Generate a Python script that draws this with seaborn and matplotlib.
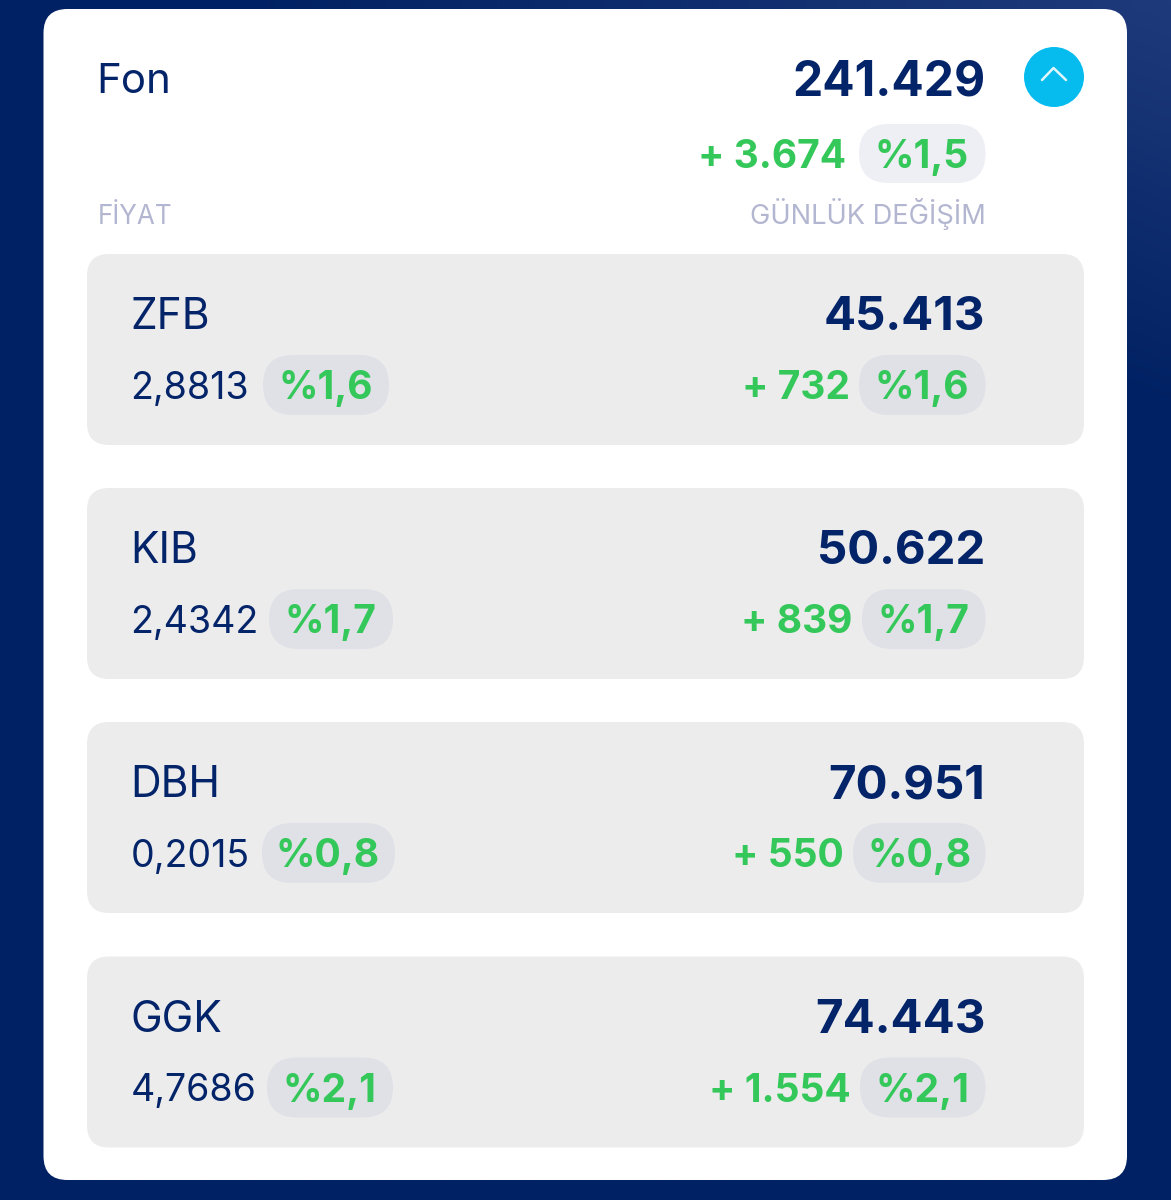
import numpy as np
import matplotlib
matplotlib.use("Agg")
import matplotlib.pyplot as plt
from matplotlib.patches import FancyBboxPatch, Circle
from matplotlib.lines import Line2D
import seaborn as sns

# ---- data ----
fund_label = "Fon"
fund_total = "241.429"
fund_change = "+ 3.674"
fund_pct = "%1,5"
col_left = "FİYAT"
col_right = "GÜNLÜK DEĞİŞİM"
names = ["ZFB", "KIB", "DBH", "GGK"]
prices = ["2,8813", "2,4342", "0,2015", "4,7686"]
price_pcts = ["%1,6", "%1,7", "%0,8", "%2,1"]
values = ["45.413", "50.622", "70.951", "74.443"]
changes = ["+ 732", "+ 839", "+ 550", "+ 1.554"]
change_pcts = ["%1,6", "%1,7", "%0,8", "%2,1"]

# ---- style ----
NAVY = "#04246a"
GREEN = "#34c759"
GREY = "#b3b6d0"
W, H = 1171, 1200
DPI = 100
sns.set_theme(style="white")
plt.rcParams["font.family"] = ["Inter", "DejaVu Sans"]


def pt(px):
    return px * 72 / DPI


fig = plt.figure(figsize=(W / DPI, H / DPI), dpi=DPI)
ax = fig.add_axes([0, 0, 1, 1])
ax.axis("off")
sns.despine(ax=ax, left=True, bottom=True)

# gradient page background (lighter toward the top right)
xx, yy = np.meshgrid(np.linspace(0, 1, 120), np.linspace(0, 1, 120))
t = np.clip(1 - yy / 0.34 - (1 - xx) * 1.25, 0, 1)
c0, c1 = np.array([0, 33, 99]) / 255, np.array([31, 58, 122]) / 255
bg = c0[None, None, :] * (1 - t[..., None]) + c1[None, None, :] * t[..., None]
ax.imshow(bg, extent=(0, W, H, 0), aspect="auto", zorder=0, interpolation="bilinear")
ax.set_xlim(0, W)
ax.set_ylim(H, 0)


def rbox(x0, y0, x1, y1, r, color, z=1):
    ax.add_patch(FancyBboxPatch((x0 + r, y0 + r), x1 - x0 - 2 * r, y1 - y0 - 2 * r,
                                boxstyle=f"round,pad={r},rounding_size={r}",
                                fc=color, ec="none", zorder=z))


def txt(x, y, s, px, color, weight="normal", ha="left"):
    ax.text(x, y, s, fontsize=pt(px), color=color, fontweight=weight, ha=ha,
            va="baseline", zorder=5)


# main card
rbox(43.5, 9, 1127, 1180, 24, "white", 1)

# header
txt(96.5, 93, fund_label, 42, NAVY)
txt(985.5, 95.5, fund_total, 48, NAVY, "bold", "right")
ax.add_patch(Circle((1054, 77), 30, fc="#06bcee", ec="none", zorder=3))
ax.add_line(Line2D([1042, 1053.5, 1066], [80, 68, 80], color="#dff6fd", lw=1.8, zorder=4))
rbox(859, 124, 985.5, 183, 29.5, "#eeeff4", 2)
txt(922, 168, fund_pct, 39, GREEN, "bold", "center")
txt(846.5, 168, fund_change, 39, GREEN, "bold", "right")
txt(98, 223.5, col_left, 26, GREY)
txt(985.5, 223.5, col_right, 27.3, GREY, ha="right")

# rows
row_tops = [254, 488, 722, 956.5]
left_pills = [(263, 389), (269, 393), (262, 395), (267, 393)]
right_pills = [859, 862, 853, 860]
for i, top in enumerate(row_tops):
    rbox(87, top, 1084, top + 191, 22, "#ececed", 2)
    txt(130.5, top + 75, names[i], 42.5, NAVY)
    txt(985.5, top + 76.5, values[i], 47.5, NAVY, "bold", "right")
    txt(130.5, top + 145, prices[i], 37.5, NAVY)
    lx0, lx1 = left_pills[i]
    rbox(lx0, top + 101, lx1, top + 161, 30, "#dfe1e7", 3)
    txt((lx0 + lx1) / 2 - 0.5, top + 145, price_pcts[i], 39, GREEN, "bold", "center")
    rx0 = right_pills[i]
    rbox(rx0, top + 101, 985.5, top + 161, 30, "#dfe1e7", 3)
    txt((rx0 + 985.5) / 2, top + 145, change_pcts[i], 39, GREEN, "bold", "center")
    txt(rx0 - 9.5, top + 145, changes[i], 39, GREEN, "bold", "right")

fig.savefig("out.png", dpi=DPI)
